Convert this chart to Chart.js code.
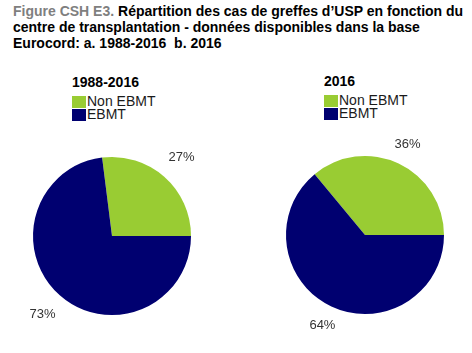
<!DOCTYPE html>
<html>
<head>
<meta charset="utf-8">
<script src="https://cdn.jsdelivr.net/npm/chart.js@4.4.1/dist/chart.umd.min.js"></script>
<style>
  html, body { margin: 0; padding: 0; background: #fff; }
  body { width: 472px; height: 353px; position: relative; overflow: hidden;
         font-family: "Liberation Sans", Arial, sans-serif; }
  #title { position: absolute; left: 13px; top: 3px; width: 470px; white-space: nowrap;
           font-size: 14px; font-weight: bold; line-height: 16px; color: #000; }
  #title .fig { color: #7f7f7f; }
  .legend { position: absolute; font-size: 14px; color: #1a1a1a; }
  .legend .lt { font-weight: bold; color: #000; margin-bottom: 5px; height: 16px; }
  .legend .row { height: 13px; line-height: 13px; display: flex; align-items: center; }
  .legend .sw { width: 14px; height: 12px; margin-right: 1px; }
  .box { position: absolute; top: 60px; width: 236px; height: 293px; }
</style>
</head>
<body>
<div id="title"><span class="fig">Figure CSH E3.</span> Répartition des cas de greffes d’USP en fonction du<br>centre de transplantation - données disponibles dans la base<br>Eurocord: a. 1988-2016&nbsp; b. 2016</div>
<div class="legend" id="legLeft" style="left:72px; top:74px;"></div>
<div class="legend" id="legRight" style="left:324px; top:73px;"></div>
<div class="box" style="left:0px;"><canvas id="pieLeft"></canvas></div>
<div class="box" style="left:236px;"><canvas id="pieRight"></canvas></div>
<script>
const categories = ["Non EBMT", "EBMT"];
const colors = ["#99cc33", "#000070"];
const valuesAll = [27, 73];
const values2016 = [36, 64];
const periodAll = "1988-2016";
const period2016 = "2016";

function buildLegend(id, title) {
  const el = document.getElementById(id);
  let html = '<div class="lt">' + title + '</div>';
  categories.forEach((c, i) => {
    html += '<div class="row"><span class="sw" style="background:' + colors[i] + '"></span>' + c + '</div>';
  });
  el.innerHTML = html;
}

// percentage labels outside each slice, at mid angle
const outerLabels = {
  id: "outerLabels",
  afterDatasetsDraw(chart, args, opts) {
    const ctx = chart.ctx;
    const meta = chart.getDatasetMeta(0);
    ctx.save();
    ctx.font = '13px "Liberation Sans", Arial, sans-serif';
    ctx.fillStyle = "#333";
    ctx.textAlign = "center";
    ctx.textBaseline = "middle";
    meta.data.forEach((arc, i) => {
      const mid = (arc.startAngle + arc.endAngle) / 2;
      const r = arc.outerRadius + opts.gap;
      const x = arc.x + Math.cos(mid) * r;
      const y = arc.y + Math.sin(mid) * r;
      ctx.fillText(chart.data.datasets[0].data[i] + "%", x, y);
    });
    ctx.restore();
  },
};

function makePie(id, values, padding, gap) {
  const total = values.reduce((a, b) => a + b, 0);
  // first slice ends at 3 o'clock
  const rotation = 90 - (values[0] / total) * 360;
  return new Chart(document.getElementById(id), {
    type: "pie",
    data: {
      labels: categories,
      datasets: [{
        data: values,
        backgroundColor: colors,
        borderWidth: 0,
        hoverOffset: 0,
      }],
    },
    options: {
      responsive: true,
      maintainAspectRatio: false,
      animation: false,
      rotation: rotation,
      layout: { padding: padding },
      plugins: {
        legend: { display: false },
        tooltip: { enabled: false },
        outerLabels: { gap: gap },
      },
    },
    plugins: [outerLabels],
  });
}

buildLegend("legLeft", periodAll);
buildLegend("legRight", period2016);
makePie("pieLeft", valuesAll, { left: 33, right: 45, top: 97, bottom: 38 }, 26);
makePie("pieRight", values2016, { left: 50, right: 28, top: 96, bottom: 39 }, 21);
</script>
</body>
</html>
